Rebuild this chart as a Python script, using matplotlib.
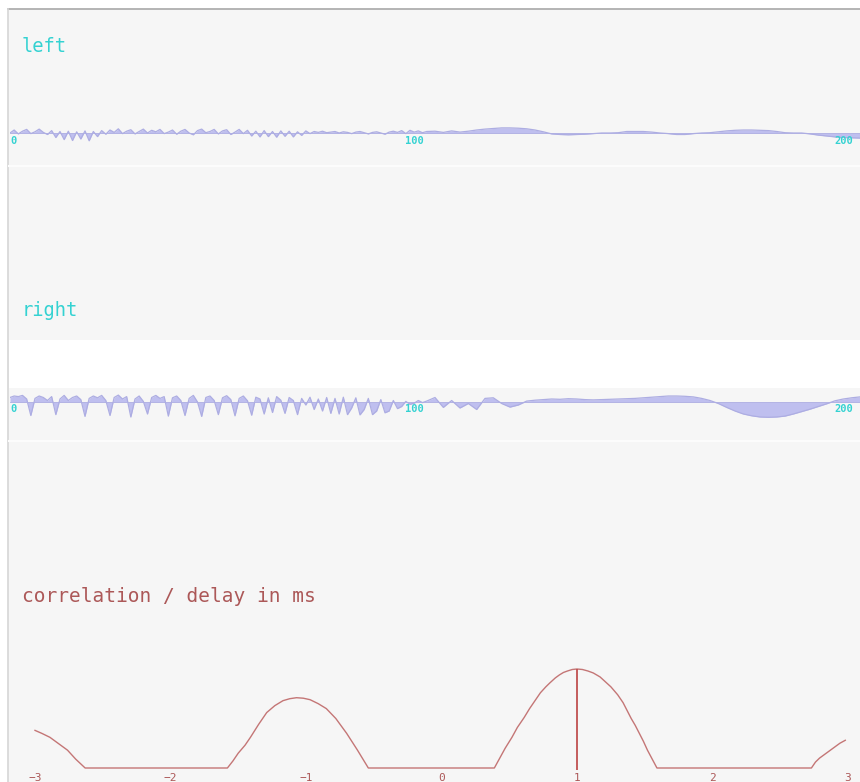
"""Stereo waveforms (left / right) and their cross-correlation over delay."""

import matplotlib
matplotlib.use("Agg")
import matplotlib.pyplot as plt
import numpy as np
from matplotlib.patches import Rectangle

W, H = 860, 782

# left channel, samples 0..100 (step 1) then 102..204 (step 2)
left_head = [
    0.00, 0.10, -0.03, 0.06, 0.12, -0.02, 0.04, 0.13, 0.02, -0.05,
    0.08, -0.15, 0.05, -0.22, 0.06, -0.25, 0.04, -0.20, 0.07, -0.26,
    0.05, -0.12, 0.08, -0.04, 0.10, 0.02, 0.14, -0.02, 0.06, 0.11,
    -0.03, 0.05, 0.13, 0.00, 0.09, 0.04, 0.12, -0.02, 0.03, 0.10,
    -0.04, 0.06, 0.12, 0.00, -0.06, 0.08, 0.13, 0.01, 0.05, 0.12,
    -0.03, 0.07, 0.11, -0.05, 0.03, 0.12, -0.02, 0.09, -0.10, 0.06,
    -0.13, 0.08, -0.12, 0.05, -0.14, 0.07, -0.11, 0.06, -0.13, 0.04,
    -0.08, 0.07, -0.02, 0.05, 0.02, 0.06, 0.01, 0.03, 0.05, 0.00,
    0.04, 0.02, -0.02, 0.03, 0.05, 0.01, -0.03, 0.02, 0.04, 0.00,
    -0.04, 0.03, 0.06, 0.02, 0.08, -0.02, 0.09, 0.03, 0.07, 0.01,
    0.05,
]
left_tail = [
    0.06, 0.02, 0.07, 0.03, 0.06, 0.10, 0.13, 0.15, 0.17, 0.17,
    0.16, 0.14, 0.10, 0.04, -0.03, -0.05, -0.06, -0.05, -0.04, -0.02,
    0.00, 0.00, 0.01, 0.05, 0.05, 0.05, 0.03, 0.00, -0.02, -0.05,
    -0.05, -0.02, 0.00, 0.01, 0.04, 0.07, 0.09, 0.10, 0.10, 0.09,
    0.08, 0.05, 0.01, 0.00, 0.00, -0.03, -0.07, -0.10, -0.13, -0.15,
    -0.16, -0.17,
]

# right channel, same sample grid
right_head = [
    0.15, 0.20, 0.18, 0.22, 0.10, -0.45, 0.12, 0.20, 0.15, 0.05,
    0.18, -0.42, 0.10, 0.22, 0.05, 0.15, 0.20, 0.08, -0.48, 0.12,
    0.20, 0.14, 0.22, 0.05, -0.45, 0.15, 0.23, 0.10, 0.18, -0.50,
    0.10, 0.20, 0.02, -0.40, 0.15, 0.22, 0.12, 0.18, -0.47, 0.14,
    0.20, 0.05, -0.45, 0.12, 0.22, 0.00, -0.48, 0.15, 0.20, 0.05,
    -0.42, 0.14, 0.21, 0.08, -0.46, 0.12, 0.20, 0.04, -0.44, 0.16,
    0.10, -0.40, 0.14, -0.35, 0.18, 0.06, -0.38, 0.15, 0.05, -0.42,
    0.12, -0.10, 0.16, -0.25, 0.10, -0.30, 0.15, -0.38, 0.12, -0.40,
    0.16, -0.42, -0.20, 0.14, -0.43, -0.25, 0.12, -0.42, -0.30, 0.08,
    -0.36, -0.30, 0.05, -0.22, -0.15, 0.02, -0.08, -0.04, 0.05, -0.02,
    0.03,
]
right_tail = [
    0.15, -0.18, 0.05, -0.20, -0.05, -0.25, 0.12, 0.14, -0.05, -0.17,
    -0.10, 0.03, 0.06, 0.08, 0.10, 0.09, 0.11, 0.10, 0.08, 0.07,
    0.08, 0.09, 0.10, 0.11, 0.12, 0.14, 0.16, 0.18, 0.20, 0.20,
    0.19, 0.17, 0.12, 0.05, -0.05, -0.18, -0.30, -0.40, -0.46, -0.50,
    -0.51, -0.50, -0.47, -0.40, -0.32, -0.24, -0.15, -0.06, 0.04, 0.10,
    0.14, 0.17,
]
wave_ticks = [0, 100, 200]

# correlation (clipped at zero) against delay in ms
delay_ms = [
    -3.00, -2.95, -2.89, -2.83, -2.76, -2.70, -2.63,
    -1.58, -1.54, -1.50, -1.45, -1.41, -1.35, -1.29, -1.23, -1.17, -1.12,
    -1.07, -1.02, -0.97, -0.91, -0.85, -0.78, -0.70, -0.62, -0.58, -0.54,
    0.39, 0.43, 0.47, 0.52, 0.56, 0.61, 0.65, 0.69, 0.73, 0.77,
    0.80, 0.84, 0.87, 0.90, 0.93, 0.965, 1.00, 1.04, 1.08, 1.12,
    1.17, 1.21, 1.25, 1.30, 1.34, 1.37, 1.40, 1.43, 1.46, 1.49,
    1.52, 1.555, 1.59,
    2.73, 2.76, 2.79, 2.82, 2.86, 2.90, 2.94, 2.98,
]
correlation = [
    0.38, 0.35, 0.31, 0.25, 0.18, 0.09, 0.00,
    0.00, 0.07, 0.15, 0.23, 0.31, 0.44, 0.56, 0.63, 0.68, 0.70,
    0.71, 0.705, 0.69, 0.65, 0.60, 0.50, 0.35, 0.18, 0.09, 0.00,
    0.00, 0.10, 0.20, 0.31, 0.41, 0.51, 0.60, 0.68, 0.76, 0.82,
    0.86, 0.91, 0.94, 0.965, 0.98, 0.995, 1.00, 0.995, 0.98, 0.96,
    0.92, 0.87, 0.82, 0.74, 0.66, 0.58, 0.50, 0.43, 0.35, 0.27,
    0.18, 0.09, 0.00,
    0.00, 0.06, 0.10, 0.13, 0.17, 0.21, 0.25, 0.28,
]
delay_ticks = [-3, -2, -1, 0, 1, 2, 3]

WAVE = "#bfbfef"
WAVE_EDGE = "#adade2"
CYAN = "#34d2d2"
CORR = "#c47676"
CORR_TEXT = "#ac5858"
MONO = "DejaVu Sans Mono"


def px_axes(fig, x0, y0, x1, y1):
    ax = fig.add_axes([x0 / W, 1 - y1 / H, (x1 - x0) / W, (y1 - y0) / H])
    ax.set_axis_off()
    ax.patch.set_alpha(0)
    return ax


def wave_panel(fig, center_y, head, tail):
    x = np.concatenate([np.arange(0, 101), np.arange(102, 206, 2)])
    y = np.array(head + tail)
    ax = px_axes(fig, 10, center_y - 30, 860, center_y + 30)
    ax.set_xlim(0, 204)
    ax.set_ylim(-1, 1)
    ax.fill_between(x, 0, y, color=WAVE, lw=0)
    ax.plot(x, y, color=WAVE_EDGE, lw=0.9)
    ax.axhline(0, color=WAVE_EDGE, lw=0.6)
    for t in wave_ticks:
        ha = "left" if t == 0 else "center"
        ax.text(t - (3 if t == 100 else 0), -0.25, str(t), color=CYAN,
                fontsize=7.5, fontweight="bold", family=MONO,
                ha=ha, va="center", clip_on=False)
    return ax


fig = plt.figure(figsize=(W / 100, H / 100), dpi=100, facecolor="white")

# page background, borders and the white strip above the right channel
bg = px_axes(fig, 0, 0, W, H)
bg.set_xlim(0, W)
bg.set_ylim(H, 0)
bg.add_patch(Rectangle((8, 9), W - 8, H - 9, facecolor="#f6f6f6", lw=0))
bg.plot([8, W], [9, 9], color="#a8a8a8", lw=1.2)
bg.plot([8, 8], [9, H], color="#d6d6d6", lw=1.2)
bg.add_patch(Rectangle((9, 340), W - 9, 48, facecolor="white", lw=0))
bg.plot([9, W], [166, 166], color="#fcfcfc", lw=1.5)
bg.plot([9, W], [441, 441], color="#fcfcfc", lw=1.5)

fig.text(22 / W, 1 - 47 / H, "left", color=CYAN, fontsize=13.5, family=MONO,
         va="center")
fig.text(22 / W, 1 - 310 / H, "right", color=CYAN, fontsize=13.5, family=MONO,
         va="center")
fig.text(22 / W, 1 - 596 / H, "correlation / delay in ms", color=CORR_TEXT,
         fontsize=14, family=MONO, va="center")

wave_panel(fig, 133, left_head, left_tail)
wave_panel(fig, 402, right_head, right_tail)

# correlation panel: delay -3 ms at x=35 px, +3 ms at x=848 px
ax = px_axes(fig, 8, 560, 860, 782)
ax.set_xlim((8 - 441.5) / 135.5, (860 - 441.5) / 135.5)
ax.set_ylim((768 - 782) / 99, (768 - 560) / 99)
ax.plot(delay_ms, correlation, color=CORR, lw=1.0)
peak = int(np.argmax(correlation))
ax.vlines(delay_ms[peak], -0.02, correlation[peak], color="#c05050", lw=1.3)
for t in delay_ticks:
    label = str(t).replace("-", "\u2212")
    ax.text(t, -0.105, label, color=CORR_TEXT, fontsize=8, family=MONO,
            ha="center", va="center", clip_on=False)

fig.savefig("out.png", dpi=100, facecolor=fig.get_facecolor())
